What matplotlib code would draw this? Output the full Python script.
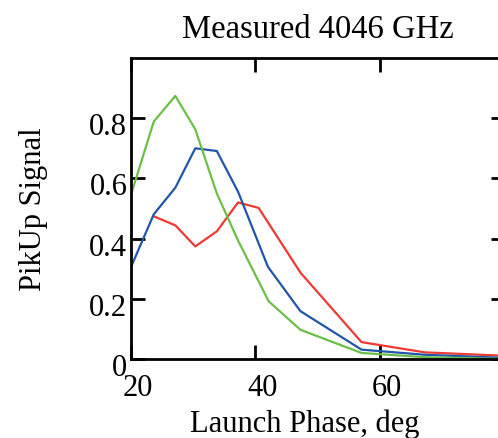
import matplotlib.pyplot as plt
from matplotlib.transforms import ScaledTranslation

# launch phase (deg) and pickup signal for the three traces
x_green = [20.2, 23.7, 27.15, 30.35, 33.8, 37.2, 42.1, 47.2, 57.0, 67.15, 79.5]
y_green = [0.556, 0.789, 0.874, 0.763, 0.55, 0.394, 0.192, 0.097, 0.02, 0.006, 0.0]

x_blue = [20.2, 23.7, 27.15, 30.35, 33.8, 37.2, 42.0, 47.2, 57.0, 67.15, 79.5]
y_blue = [0.313, 0.481, 0.569, 0.70, 0.691, 0.556, 0.306, 0.159, 0.031, 0.014, 0.004]

x_red = [23.7, 27.15, 30.35, 33.8, 37.2, 40.5, 47.2, 57.0, 67.15, 79.5]
y_red = [0.474, 0.444, 0.374, 0.424, 0.52, 0.502, 0.287, 0.056, 0.022, 0.011]

xticks = [20, 40, 60]
yticks = [0, 0.2, 0.4, 0.6, 0.8]
ytick_labels = ['0', '0.2', '0.4', '0.6', '0.8']

plt.rcParams['font.family'] = ['Liberation Serif', 'DejaVu Serif']

fig = plt.figure(figsize=(4.98, 4.39), dpi=100)
ax = fig.add_axes([0.2625, 0.180, 0.7516, 0.6856])

ax.plot(x_red, y_red, color='#ee3a33', lw=1.6)
ax.plot(x_blue, y_blue, color='#2156a8', lw=1.6)
ax.plot(x_green, y_green, color='#6bbf48', lw=1.6)

ax.set_xlim(20, 80)
ax.set_ylim(0, 1.0)
ax.set_xticks(xticks)
ax.set_yticks(yticks)
ax.set_yticklabels(ytick_labels)

for s in ax.spines.values():
    s.set_linewidth(2)
ax.tick_params(direction='in', length=10, width=2, labelsize=22,
               top=True, right=True)
ax.tick_params(axis='x', pad=10)
ax.tick_params(axis='y', pad=2.5)

# tick labels in the original sit a little right / below their ticks
for lab in ax.get_xticklabels():
    lab.set_transform(lab.get_transform() + ScaledTranslation(7/100, 0, fig.dpi_scale_trans))
for lab in ax.get_yticklabels():
    lab.set_transform(lab.get_transform() + ScaledTranslation(0, -5/100, fig.dpi_scale_trans))

ax.set_xlabel('Launch Phase, deg', fontsize=22)
ax.xaxis.set_label_coords(0.464, -0.165)
ax.set_ylabel('PikUp Signal', fontsize=22)
ax.yaxis.set_label_coords(-0.222, 0.5)
ax.set_title('Measured 4046 GHz', fontsize=23.5, pad=15)

fig.savefig('out.png', dpi=100)
